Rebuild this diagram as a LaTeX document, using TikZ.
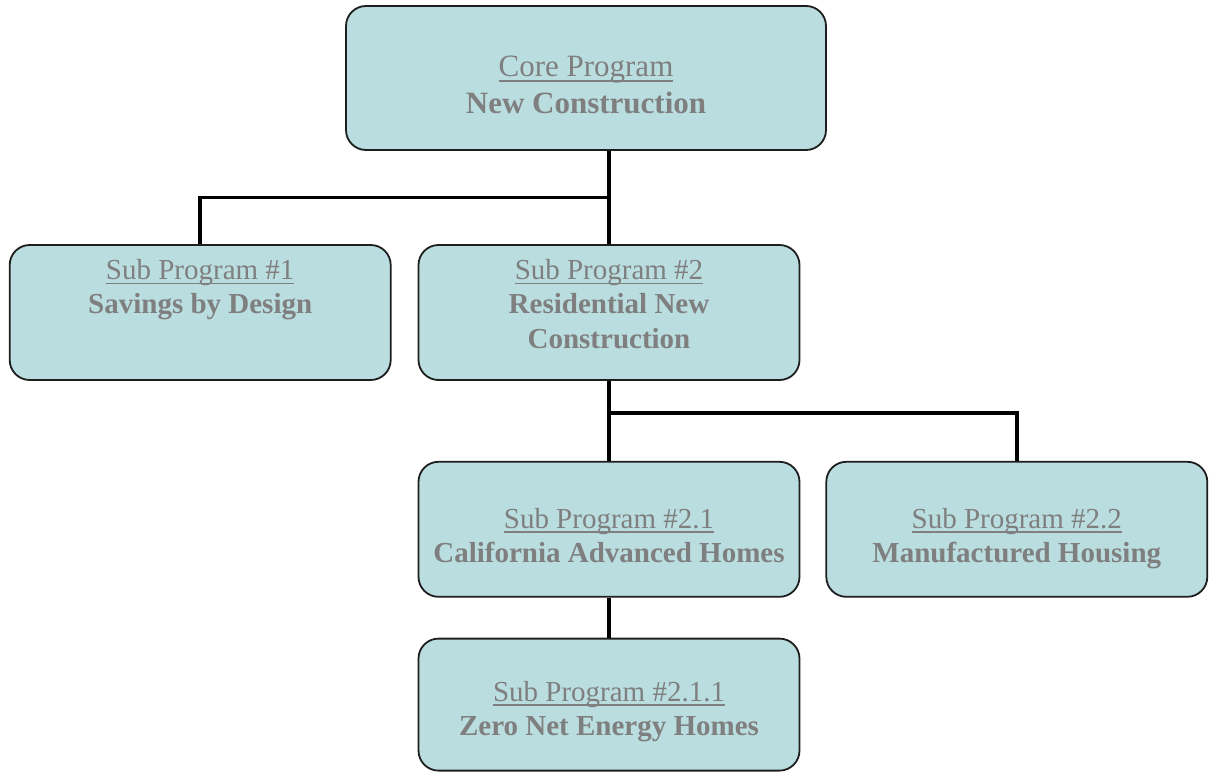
\documentclass[tikz,border=0pt]{standalone}
\usepackage{fontspec}
\setmainfont{Liberation Serif}
\usetikzlibrary{positioning,calc}
\definecolor{boxfill}{RGB}{186,221,223}
\definecolor{boxline}{RGB}{30,30,30}
\definecolor{txtgray}{RGB}{127,127,127}
\newsavebox\ulbox
\newcommand{\progul}[1]{\sbox\ulbox{#1}\rlap{\rule[-5pt]{\wd\ulbox}{1.8pt}}\usebox\ulbox}
\tikzstyle{prog} = [rectangle, draw=boxline, line width=1.8pt, fill=boxfill, rounded corners=20pt, minimum width=381pt, minimum height=135pt]
\tikzstyle{progtext} = [text=txtgray, align=center, inner sep=0pt, font=\fontsize{29}{34.5}\selectfont]
\tikzstyle{link} = [line width=3.8pt, black]

\begin{document}
\begin{tikzpicture}[x=1pt, y=1pt]
    \useasboundingbox (0,0) rectangle (1215,-773);
    % boxes
    \node[prog, minimum width=480pt, minimum height=144pt] (core) at (586,-78) {};
    \node[prog] (sub2) at (609,-312.5) {};
    \node[prog, left=26pt of sub2] (sub1) {};
    \node[prog, below=80pt of sub2] (sub21) {};
    \node[prog, right=25pt of sub21] (sub22) {};
    \node[prog, below=40pt of sub21, minimum height=132pt] (sub211) {};

    % texts
    \node[progtext, font=\fontsize{31}{36.5}\selectfont, below=51pt of core.north] (coretxt) {\progul{Core Program}\\\textbf{New Construction}};
    \node[progtext, below=15pt of sub1.north] (sub1txt) {\progul{Sub Program \#1}\\\textbf{Savings by Design}};
    \node[progtext, below=15pt of sub2.north] (sub2txt) {\progul{Sub Program \#2}\\\textbf{Residential New}\\\textbf{Construction}};
    \node[progtext, below=47pt of sub21.north] (sub21txt) {\progul{Sub Program \#2.1}\\\textbf{California Advanced Homes}};
    \node[progtext, below=47pt of sub22.north] (sub22txt) {\progul{Sub Program \#2.2}\\\textbf{Manufactured Housing}};
    \node[progtext, below=43pt of sub211.north] (sub211txt) {\progul{Sub Program \#2.1.1}\\\textbf{Zero Net Energy Homes}};

    % connectors
    \coordinate (j1) at ($(core.south -| sub2.north)!0.5!(sub2.north)$);
    \coordinate (j2) at ($(sub2.south)!0.4!(sub21.north)$);
    \draw[link] (core.south -| sub2.north) -- (sub2.north);
    \draw[link] (j1) -| (sub1.north);
    \draw[link] (sub2.south) -- (sub21.north);
    \draw[link] (j2) -| (sub22.north);
    \draw[link] (sub21.south) -- (sub211.north);
\end{tikzpicture}
\end{document}
